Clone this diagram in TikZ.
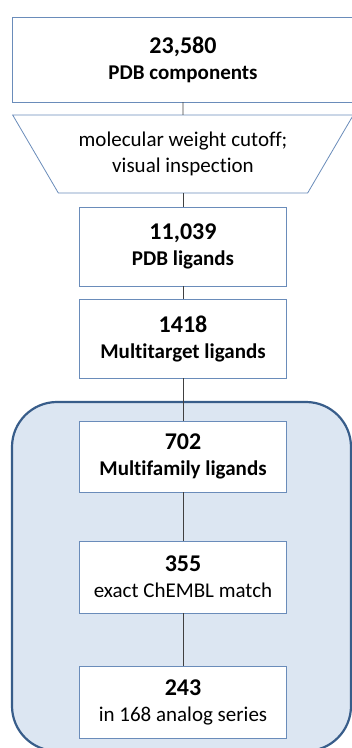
\documentclass[tikz,border=0pt]{standalone}
\usepackage{fontspec}
\setmainfont{Carlito}[Ligatures=NoCommon]
\usetikzlibrary{shapes.geometric,positioning,backgrounds}
\definecolor{boxline}{HTML}{6A8CBA}
\definecolor{regionline}{HTML}{385D8A}
\definecolor{regionfill}{HTML}{DCE6F2}
\newcommand{\countfont}{\fontsize{24}{26}\selectfont\bfseries}

\begin{document}
\begin{tikzpicture}[
    % Define node styles
    x=1pt, y=-1pt,
    stage/.style={rectangle, fill=white, draw=boxline, line width=0.8pt, align=center,
                  minimum width=207pt, inner sep=0pt, outer sep=0pt, font=\fontsize{21}{26}\selectfont},
    filter/.style={trapezium, shape border rotate=180, trapezium stretches=true,
                   trapezium angle=49, fill=white, draw=boxline, line width=0.8pt, align=center,
                   minimum width=342pt, minimum height=78pt, inner sep=0pt, outer sep=0pt,
                   font=\fontsize{21}{26}\selectfont},
    region/.style={rectangle, rounded corners=45pt, fill=regionfill, draw=regionline, line width=2.2pt},
    link/.style={draw=black!75, line width=0.8pt},
]
\clip (0,0) rectangle (352,748);
\useasboundingbox (0,0) rectangle (352,748);

% Main nodes
\node[stage, minimum width=342pt, minimum height=85pt] (pdbComp) at (183,59.5)
    {{\countfont 23,580}\\\bfseries PDB components};
\node[filter] (cutoff) at (183,154) {molecular weight cutoff;\\visual inspection};
\node[stage, minimum height=79pt] (pdbLig) at (183,246.5)
    {{\countfont 11,039}\\\bfseries PDB ligands};
\node[stage, minimum height=79pt] (multiTarget) at (183,338.5)
    {{\countfont 1418}\\\bfseries Multitarget ligands};
\node[stage, minimum height=71pt] (multiFamily) at (183,456.5)
    {{\countfont 702}\\\bfseries Multifamily ligands};
\node[stage, minimum height=72pt] (chembl) at (183,577)
    {{\countfont 355}\\exact ChEMBL match};
\node[stage, minimum height=72pt] (series) at (183,702)
    {{\countfont 243}\\in 168 analog series};

% Background region
\begin{scope}[on background layer]
    \draw[region] (12,402) rectangle (351,751);
\end{scope}

% Connectors
\draw[link] (pdbComp) -- (cutoff);
\draw[link] (cutoff) -- (pdbLig);
\draw[link] (pdbLig) -- (multiTarget);
\draw[link] (multiTarget) -- (multiFamily);
\draw[link] (multiFamily) -- (chembl);
\draw[link] (chembl) -- (series);

\end{tikzpicture}
\end{document}
